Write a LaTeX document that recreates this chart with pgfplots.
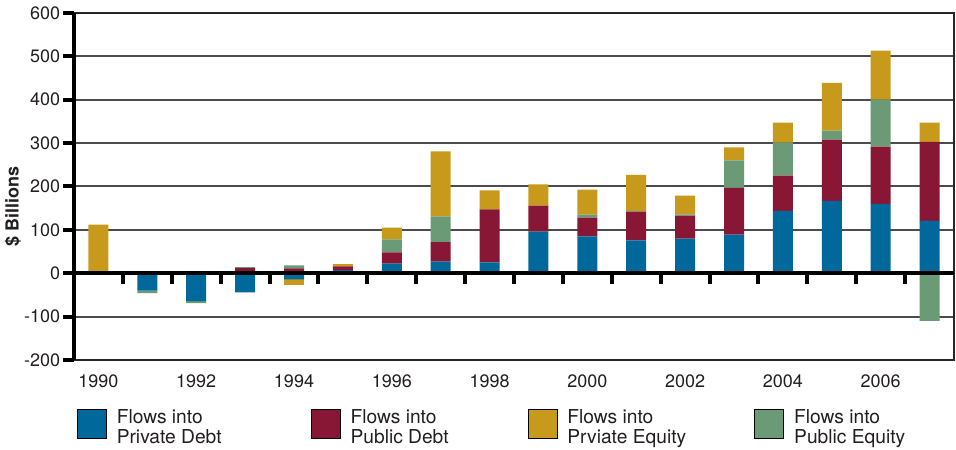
\documentclass[border=0pt]{standalone}
\usepackage{pgfplots}
\pgfplotsset{compat=1.18}
\usepackage{pgfplotstable}
\usepackage{fontspec}
\setmainfont{TeX Gyre Heros}
\definecolor{pdblue}{RGB}{0,104,155}
\definecolor{pubdred}{RGB}{136,22,53}
\definecolor{pegold}{RGB}{200,154,28}
\definecolor{pubegreen}{RGB}{106,155,118}
\definecolor{txt}{RGB}{35,31,32}

% positive parts (stacked upward from zero)
\pgfplotstableread{
year pd pubd pube pe
1990 0 0 0 112
1991 0 0 0 0
1992 0 2 0 0
1993 0 12 2 0
1994 0 11 7 0
1995 7 9 0 5
1996 22 26 30 27
1997 27 45 59 150
1998 25 122 0 44
1999 96 60 0 49
2000 85 43 7 58
2001 76 66 2 83
2002 80 53 3 43
2003 89 108 63 30
2004 144 81 76 46
2005 167 141 21 110
2006 160 132 108 113
2007 121 182 0 44
}\postable

% negative parts (stacked downward from zero)
\pgfplotstableread{
year pd pubd pube pe
1991 -40 0 -6 0
1992 -64 0 -5 0
1993 -44 0 0 0
1994 -14 0 0 -14
2007 0 0 -110 0
}\negtable

\newcommand{\legtxt}[3]{\makebox[#1][l]{\begin{tabular}[c]{@{}l@{}}#2\\#3\end{tabular}}}

\pgfplotsset{
  sqleg/.style={legend image code/.code={\fill[##1] (0pt,-7.25pt) rectangle (14.5pt,7.25pt);}},
  common/.style={
    scale only axis, width=440pt, height=173.5pt,
    at={(0pt,0pt)}, anchor=south west,
    xmin=1989.5, xmax=2007.5, ymin=-200, ymax=600,
    ybar stacked, bar width=10pt,
  },
}

\begin{document}
\begin{tikzpicture}
\path[use as bounding box] (-37pt,-44.5pt) rectangle (441pt,180pt);
\begin{axis}[common,
  axis line style={black!85, line width=1pt},
  major tick length=0pt,
  xtick={1990,1992,...,2006},
  xticklabels={1990,1992,1994,1996,1998,2000,2002,2004,2006},
  ytick={-200,-100,...,600},
  yticklabels={-200,-100,0,100,200,300,400,500,600},
  tick label style={font=\fontsize{9}{10}\selectfont, text=txt, inner sep=0pt},
  xticklabel shift=7pt, yticklabel shift=6.75pt,
  ymajorgrids, major grid style={black!70, line width=1pt},
  ylabel={\$ Billions},
  ylabel style={font=\bfseries\fontsize{9}{10}\selectfont, text=txt,
    at={(axis description cs:-0.0693,0.441)}, anchor=center},
  legend columns=4,
  legend style={draw=none, fill=none, inner sep=0pt, outer sep=0pt,
    at={(rel axis cs:0,0)}, anchor=north west, xshift=1.5pt, yshift=-24.5pt,
    column sep=0pt,
    nodes={inner sep=0pt, font=\fontsize{9.6}{10}\selectfont, text=txt},
    /tikz/every odd column/.append style={column sep=5pt}},
]
\addlegendimage{sqleg, fill=pdblue}
\addlegendentry{\legtxt{97pt}{Flows into}{Private Debt}}
\addlegendimage{sqleg, fill=pubdred}
\addlegendentry{\legtxt{88.5pt}{Flows into}{Public Debt}}
\addlegendimage{sqleg, fill=pegold}
\addlegendentry{\legtxt{93.5pt}{Flows into}{Prviate Equity}}
\addlegendimage{sqleg, fill=pubegreen}
\addlegendentry{\legtxt{60pt}{Flows into}{Public Equity}}

\addplot[fill=pdblue, draw=none] table[x=year, y=pd] {\postable};
\addplot[fill=pubdred, draw=none] table[x=year, y=pubd] {\postable};
\addplot[fill=pubegreen, draw=none] table[x=year, y=pube] {\postable};
\addplot[fill=pegold, draw=none] table[x=year, y=pe] {\postable};
\end{axis}

\begin{axis}[common,
  axis on top,
  axis x line*=middle, axis y line*=left,
  axis line style={black, line width=2pt},
  xtick={1990.5,1991.5,...,2006.5}, xticklabels={},
  ytick={-200,-100,...,600}, yticklabels={},
  tick style={black, line width=2pt},
  tick align=outside,
  major tick length=5.25pt,
]
\addplot[fill=pdblue, draw=none] table[x=year, y=pd] {\negtable};
\addplot[fill=pubdred, draw=none] table[x=year, y=pubd] {\negtable};
\addplot[fill=pubegreen, draw=none] table[x=year, y=pube] {\negtable};
\addplot[fill=pegold, draw=none] table[x=year, y=pe] {\negtable};
\end{axis}
\end{tikzpicture}
\end{document}
